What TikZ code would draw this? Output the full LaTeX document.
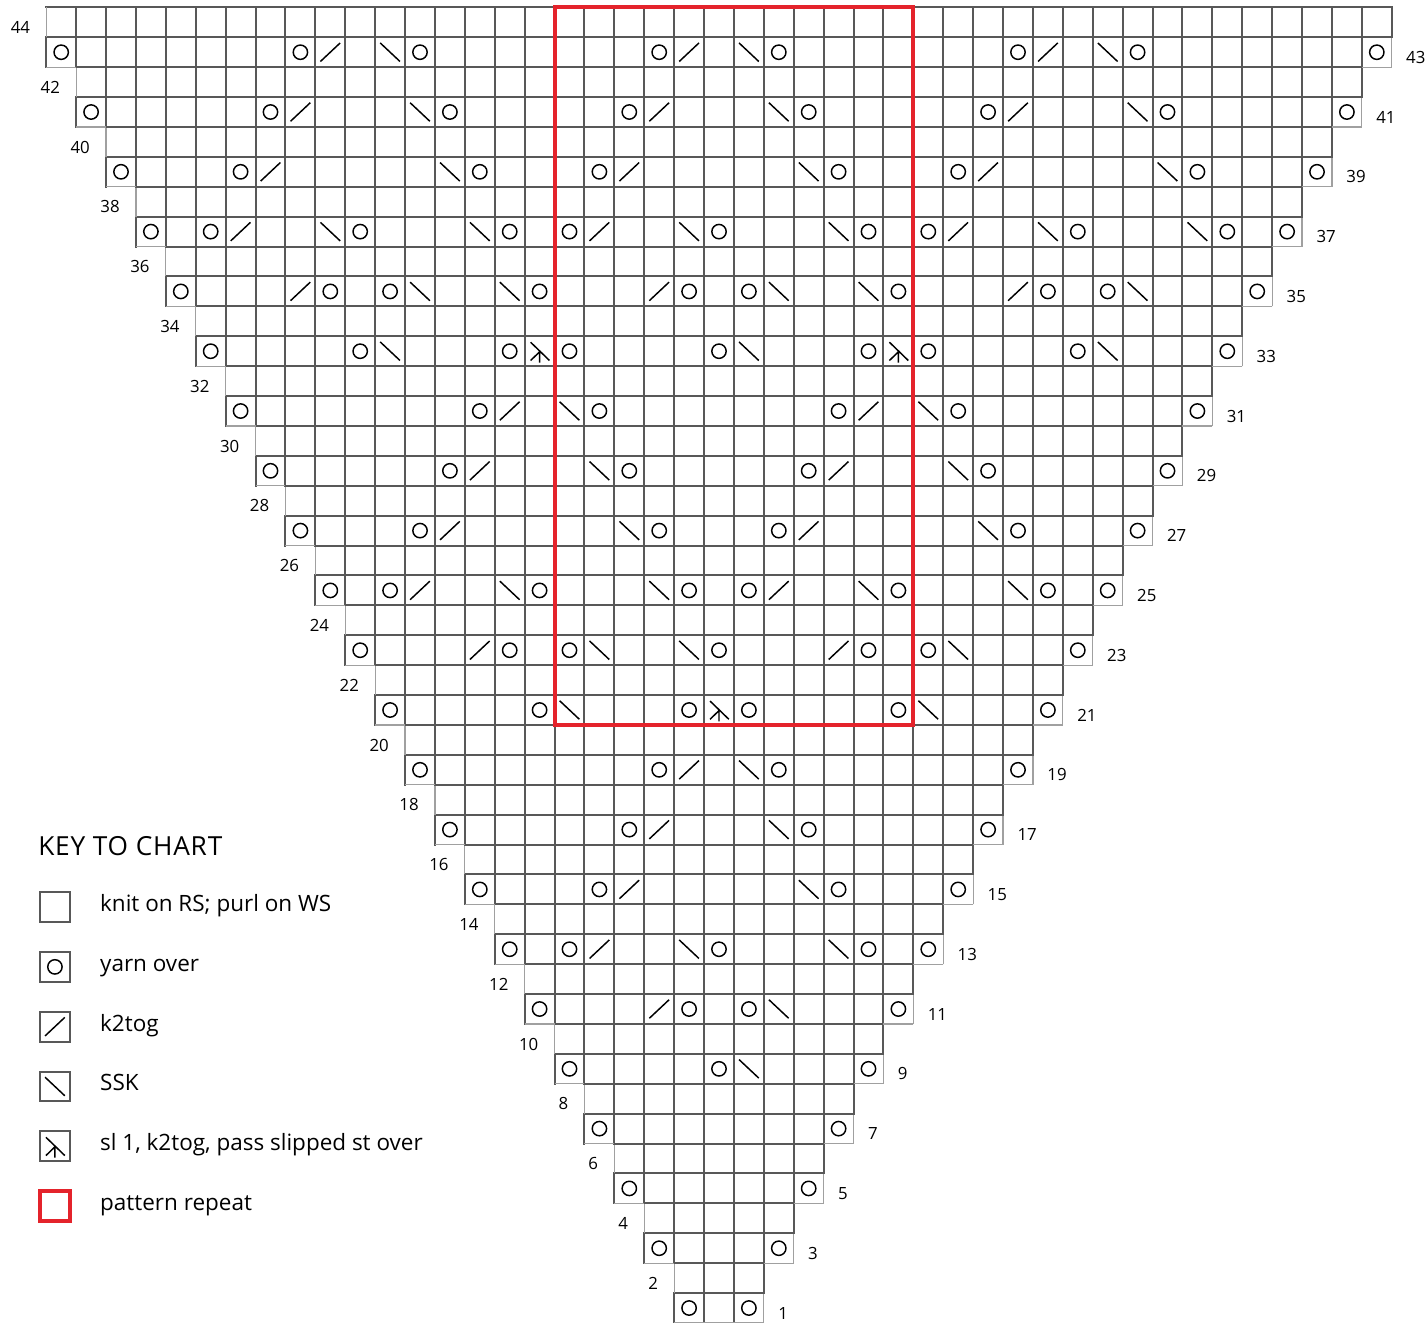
\documentclass[tikz,border=0pt]{standalone}
\usepackage{fontspec}
\setmainfont{Open Sans}
\usetikzlibrary{positioning}

\definecolor{gridgray}{HTML}{585858}
\definecolor{rimgray}{HTML}{A0A0A0}
\definecolor{repeatred}{HTML}{E4232B}

\begin{document}
\begin{tikzpicture}[
  x=5mm, y=5mm,
  gridline/.style={draw=gridgray,line width=0.95pt,line cap=rect},
  rimline/.style={draw=rimgray,line width=0.6pt},
  stitch/.style={draw=black,line width=0.7pt},
  repeatbox/.style={draw=repeatred,line width=1.9pt},
  rownum/.style={font=\fontsize{8}{9}\selectfont,inner sep=0pt},
  keybox/.style={draw=gridgray,line width=0.95pt,minimum size=5mm,inner sep=0pt,outer sep=0pt},
  keytext/.style={font=\fontsize{10.7}{13}\selectfont,inner sep=0pt,yshift=-0.75mm},
  keytitle/.style={font=\fontsize{12.5}{15}\selectfont,inner sep=0pt},
  yo/.pic={\draw[stitch] (0,0) circle[radius=0.24];},
  ktwo/.pic={\draw[stitch] (-0.33,-0.31) -- (0.33,0.31);},
  ssk/.pic={\draw[stitch] (-0.33,0.31) -- (0.33,-0.31);},
  sktp/.pic={\draw[stitch] (-0.3,0.3) -- (0.33,-0.31) (-0.3,-0.31) -- (0,-0.02) -- (0,-0.38);}
]
  \useasboundingbox (-24.047,0) rectangle (23.712,44.247);

  % grid, edge yarn overs and row numbers
  \foreach \r in {1,...,44}{
    \pgfmathtruncatemacro\h{(\r+1)/2}
    \pgfmathtruncatemacro\lo{-\h}
    \pgfmathtruncatemacro\hi{\h-1}
    \draw[gridline] (-\h-0.5,\r) -- (\h+0.5,\r);
    \foreach \c in {\lo,...,\hi}
      \draw[gridline] (\c+0.5,\r-1) -- ++(0,1);
    \ifodd\r
      \draw[gridline] (-\h-0.5,\r-1) -- ++(0,1);
      \draw[rimline] (\h+0.5,\r-1) -- ++(0,1)
        (-\h-0.5,\r-1) -- ++(1,0) (\h+0.5,\r-1) -- ++(-1,0);
      \pic at (-\h,\r-0.5) {yo};
      \pic at (\h,\r-0.5) {yo};
      \node[rownum,anchor=west] (row\r) at (\h+0.97,\r-0.67) {\r};
    \else
      \draw[rimline] (-\h-0.5,\r-1) -- ++(0,1);
      \draw[gridline] (\h+0.5,\r-1) -- ++(0,1);
      \node[rownum,anchor=east] (row\r) at (-\h-1.03,\r-0.67) {\r};
    \fi
  }
  \draw[rimline] (-0.5,0) -- (0.5,0);

  % lace stitches, right side rows
  \foreach \r/\sts in {
      9/{0/yo,1/ssk},
      11/{-2/ktwo,-1/yo,1/yo,2/ssk},
      13/{-5/yo,-4/ktwo,-1/ssk,0/yo,4/ssk,5/yo},
      15/{-4/yo,-3/ktwo,3/ssk,4/yo},
      17/{-3/yo,-2/ktwo,2/ssk,3/yo},
      19/{-2/yo,-1/ktwo,1/ssk,2/yo},
      21/{-6/yo,-5/ssk,-1/yo,0/sktp,1/yo,6/yo,7/ssk},
      23/{-8/ktwo,-7/yo,-5/yo,-4/ssk,-1/ssk,0/yo,4/ktwo,5/yo,7/yo,8/ssk},
      25/{-11/yo,-10/ktwo,-7/ssk,-6/yo,-2/ssk,-1/yo,1/yo,2/ktwo,5/ssk,6/yo,10/ssk,11/yo},
      27/{-10/yo,-9/ktwo,-3/ssk,-2/yo,2/yo,3/ktwo,9/ssk,10/yo},
      29/{-9/yo,-8/ktwo,-4/ssk,-3/yo,3/yo,4/ktwo,8/ssk,9/yo},
      31/{-8/yo,-7/ktwo,-5/ssk,-4/yo,4/yo,5/ktwo,7/ssk,8/yo},
      33/{-12/yo,-11/ssk,-7/yo,-6/sktp,-5/yo,0/yo,1/ssk,5/yo,6/sktp,7/yo,12/yo,13/ssk},
      35/{-14/ktwo,-13/yo,-11/yo,-10/ssk,-7/ssk,-6/yo,-2/ktwo,-1/yo,1/yo,2/ssk,5/ssk,6/yo,10/ktwo,11/yo,13/yo,14/ssk},
      37/{-17/yo,-16/ktwo,-13/ssk,-12/yo,-8/ssk,-7/yo,-5/yo,-4/ktwo,-1/ssk,0/yo,4/ssk,5/yo,7/yo,8/ktwo,11/ssk,12/yo,16/ssk,17/yo},
      39/{-16/yo,-15/ktwo,-9/ssk,-8/yo,-4/yo,-3/ktwo,3/ssk,4/yo,8/yo,9/ktwo,15/ssk,16/yo},
      41/{-15/yo,-14/ktwo,-10/ssk,-9/yo,-3/yo,-2/ktwo,2/ssk,3/yo,9/yo,10/ktwo,14/ssk,15/yo},
      43/{-14/yo,-13/ktwo,-11/ssk,-10/yo,-2/yo,-1/ktwo,1/ssk,2/yo,10/yo,11/ktwo,13/ssk,14/yo}}
    \foreach \c/\s in \sts
      \pic at (\c,\r-0.5) {\s};

  % pattern repeat
  \draw[repeatbox] (-5.5,20) rectangle (6.5,44);

  % key
  \node[keytitle,anchor=base west] (keytitle) at (-22.78,15.65)
    {\addfontfeature{LetterSpace=3}KEY TO CHART};
  \node[keybox] (keyknit) at (-22.21,13.91) {};
  \node[keybox,below=5mm of keyknit] (keyyo) {};
  \node[keybox,below=5mm of keyyo] (keyktwo) {};
  \node[keybox,below=5mm of keyktwo] (keyssk) {};
  \node[keybox,below=5mm of keyssk] (keysktp) {};
  \node[keybox,draw=repeatred,line width=1.9pt,below=5mm of keysktp] (keyrepeat) {};
  \pic at (keyyo) {yo};
  \pic at (keyktwo) {ktwo};
  \pic at (keyssk) {ssk};
  \pic at (keysktp) {sktp};
  \node[keytext,base right=5mm of keyknit] (txtknit) {knit on RS; purl on WS};
  \node[keytext,base right=5mm of keyyo] (txtyo) {yarn over};
  \node[keytext,base right=5mm of keyktwo] (txtktwo) {k2tog};
  \node[keytext,base right=5mm of keyssk] (txtssk) {SSK};
  \node[keytext,base right=5mm of keysktp] (txtsktp) {sl 1, k2tog, pass slipped st over};
  \node[keytext,base right=5mm of keyrepeat] (txtrepeat) {pattern repeat};
\end{tikzpicture}
\end{document}
